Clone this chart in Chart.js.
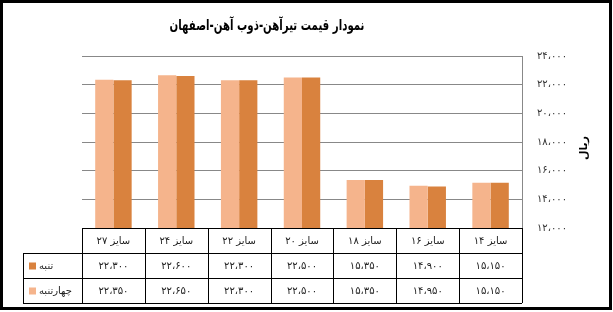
<!DOCTYPE html>
<html>
<head>
<meta charset="utf-8">
<script src="https://cdn.jsdelivr.net/npm/chart.js@4"></script>
<style>
  html, body { margin: 0; padding: 0; background: #fff; }
  canvas { display: block; }
</style>
</head>
<body>
<canvas id="chart" width="613" height="312"></canvas>
<script>
const chartTitle = 'نمودار قیمت تیرآهن-ذوب آهن-اصفهان';
const axisTitle = 'ریال';
const categories = ['سایز ۲۷', 'سایز ۲۴', 'سایز ۲۲', 'سایز ۲۰', 'سایز ۱۸', 'سایز ۱۶', 'سایز ۱۴'];
const tanbe = [22300, 22600, 22300, 22500, 15350, 14900, 15150];
const chaharTanbe = [22350, 22650, 22300, 22500, 15350, 14950, 15150];
const yMin = 12000, yMax = 24000, yStep = 2000;

const darkOrange = '#d9823e';
const lightOrange = '#f5b48c';
const FONT = '"DejaVu Sans", sans-serif';

function fa(n) {
    return n.toLocaleString('en-US')
        .replace(/\d/g, d => '۰۱۲۳۴۵۶۷۸۹'[d])
        .replace(/,/g, '،');
}

// table rows, top to bottom (the bars draw light first, dark second)
const tableRows = [
    { name: 'تنبه', color: darkOrange, values: tanbe },
    { name: 'چهارتنبه', color: lightOrange, values: chaharTanbe }
];

const decorPlugin = {
    id: 'decor',
    afterDraw(chart) {
        const ctx = chart.ctx;
        const area = chart.chartArea;
        const x = chart.scales.x;
        const rowH = 25;
        const top = area.bottom;
        const colW = (area.right - area.left) / categories.length;
        ctx.save();

        // title, squeezed to look like the narrow bold face of the original
        ctx.save();
        ctx.translate(267, 26);
        ctx.scale(0.68, 1);
        ctx.fillStyle = '#000';
        ctx.font = 'bold 15px ' + FONT;
        ctx.textAlign = 'center';
        ctx.textBaseline = 'middle';
        ctx.fillText(chartTitle, 0, 0);
        ctx.restore();

        ctx.textAlign = 'center';
        ctx.textBaseline = 'middle';

        // axis title
        ctx.save();
        ctx.translate(584, 148);
        ctx.rotate(-Math.PI / 2);
        ctx.fillStyle = '#000';
        ctx.font = 'bold 11px ' + FONT;
        ctx.fillText(axisTitle, 0, 0);
        ctx.restore();

        // data table
        ctx.strokeStyle = '#000';
        ctx.lineWidth = 1;
        ctx.beginPath();
        ctx.moveTo(area.left, top + 0.5);
        ctx.lineTo(area.right, top + 0.5);
        for (let j = 1; j <= 3; j++) {
            ctx.moveTo(23, top + j * rowH + 0.5);
            ctx.lineTo(area.right, top + j * rowH + 0.5);
        }
        ctx.moveTo(23.5, top + rowH);
        ctx.lineTo(23.5, top + 3 * rowH);
        for (let i = 0; i <= categories.length; i++) {
            const px = Math.round(area.left + i * colW) + 0.5;
            ctx.moveTo(px, top);
            ctx.lineTo(px, top + 3 * rowH);
        }
        ctx.stroke();

        ctx.fillStyle = '#222';
        ctx.font = '10px ' + FONT;
        categories.forEach((c, i) => {
            const cx = x.getPixelForValue(i);
            ctx.fillText(c, cx, top + rowH / 2 + 1);
            tableRows.forEach((r, j) => {
                ctx.fillText(fa(r.values[i]), cx, top + rowH * (j + 1) + rowH / 2 + 1);
            });
        });

        tableRows.forEach((r, j) => {
            const cy = top + rowH * (j + 1) + rowH / 2;
            ctx.fillStyle = r.color;
            ctx.fillRect(29, cy - 3, 7, 7);
            ctx.fillStyle = '#222';
            ctx.textAlign = 'left';
            ctx.fillText(r.name, 39, cy + 1);
        });

        // frame
        ctx.strokeStyle = '#000';
        ctx.lineWidth = 3;
        ctx.strokeRect(1.5, 1.5, 609, 307);
        ctx.restore();
    }
};

new Chart(document.getElementById('chart'), {
    type: 'bar',
    data: {
        labels: categories,
        datasets: [
            { label: 'چهارتنبه', data: chaharTanbe, backgroundColor: lightOrange },
            { label: 'تنبه', data: tanbe, backgroundColor: darkOrange }
        ]
    },
    options: {
        responsive: false,
        animation: false,
        devicePixelRatio: 1,
        layout: { padding: { left: 82, right: 1, top: 56, bottom: 84 } },
        datasets: { bar: { categoryPercentage: 0.58, barPercentage: 1 } },
        plugins: { legend: { display: false }, tooltip: { enabled: false } },
        scales: {
            x: { display: false },
            y: {
                position: 'right',
                min: yMin,
                max: yMax,
                afterFit: scale => { scale.width = 90; },
                grid: { color: '#888', drawTicks: false },
                border: { color: '#888' },
                ticks: {
                    stepSize: yStep,
                    padding: 15,
                    color: '#333',
                    font: { family: FONT, size: 10 },
                    callback: v => fa(v)
                }
            }
        }
    },
    plugins: [decorPlugin]
});
</script>
</body>
</html>
